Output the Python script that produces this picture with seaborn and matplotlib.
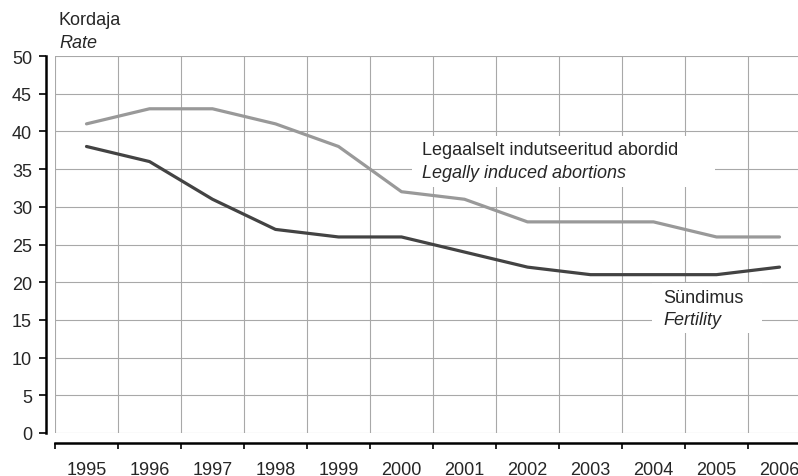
import numpy as np
import pandas as pd
import matplotlib
matplotlib.use("Agg")
import matplotlib.pyplot as plt
import seaborn as sns
from matplotlib.patches import Rectangle

years = [1995, 1996, 1997, 1998, 1999, 2000, 2001, 2002, 2003, 2004, 2005, 2006]
abortions = [41, 43, 43, 41, 38, 32, 31, 28, 28, 28, 26, 26]
fertility = [38, 36, 31, 27, 26, 26, 24, 22, 21, 21, 21, 22]
y_ticks = [0, 5, 10, 15, 20, 25, 30, 35, 40, 45, 50]

sns.set_style("white")
plt.rcParams['font.family'] = ['Liberation Sans', 'DejaVu Sans']
plt.rcParams['font.size'] = 13

pos = np.arange(len(years))
df = pd.DataFrame({"pos": pos, "abortions": abortions, "fertility": fertility})

fig = plt.figure(figsize=(7.98, 4.77), dpi=100)
# axes runs a bit past the right edge, like the original
ax = fig.add_axes([55 / 798, 1 - 434 / 477, 756 / 798, 377 / 477])

sns.lineplot(data=df, x="pos", y="abortions", color="#999999", linewidth=2.3, ax=ax, zorder=4)
sns.lineplot(data=df, x="pos", y="fertility", color="#434343", linewidth=2.3, ax=ax, zorder=4)

ax.set_xlim(-0.5, len(years) - 0.5)
ax.set_ylim(0, 50)

# category boundaries get the tick marks + grid, labels sit in the middle
ax.set_xticks(np.arange(-0.5, len(years), 1.0))
ax.set_xticklabels([])
ax.set_xticks(pos, minor=True)
ax.set_xticklabels([str(y) for y in years], minor=True)
ax.tick_params(axis='x', which='major', direction='out', length=4.5, width=1.2, bottom=True, color='black')
ax.tick_params(axis='x', which='minor', length=0, pad=13, labelsize=13)

ax.set_yticks(y_ticks)
ax.tick_params(axis='y', direction='out', length=5, width=1.2, left=True, pad=5, labelsize=13, color='black')

ax.grid(True, which='major', color='#a8a8a8', linewidth=0.8)
ax.set_axisbelow(True)

for s in ['top', 'right']:
    ax.spines[s].set_visible(False)
ax.spines['left'].set_position(('outward', 6.5))
ax.spines['bottom'].set_position(('outward', 7.2))
ax.spines['left'].set_linewidth(1.8)
ax.spines['bottom'].set_linewidth(1.8)
ax.spines['left'].set_color('black')
ax.spines['bottom'].set_color('black')

ax.set_xlabel('')
ax.set_ylabel('')

# label boxes covering the grid
ax.add_patch(Rectangle((5.17, 32.6), 4.81, 6.8, facecolor='white', edgecolor='none', zorder=2))
ax.text(5.33, 37.0, 'Legaalselt indutseeritud abordid', fontsize=13, va='baseline', zorder=3)
ax.text(5.33, 34.0, 'Legally induced abortions', fontsize=13, style='italic', va='baseline', zorder=3)

ax.add_patch(Rectangle((8.976, 13.3), 1.75, 6.6, facecolor='white', edgecolor='none', zorder=2))
ax.text(9.15, 17.4, 'Sündimus', fontsize=13, va='baseline', zorder=3)
ax.text(9.15, 14.5, 'Fertility', fontsize=13, style='italic', va='baseline', zorder=3)

fig.text(59 / 798, 1 - 25 / 477, 'Kordaja', fontsize=13, va='baseline')
fig.text(59 / 798, 1 - 48 / 477, 'Rate', fontsize=13, style='italic', va='baseline')

fig.savefig('out.png', dpi=100)
